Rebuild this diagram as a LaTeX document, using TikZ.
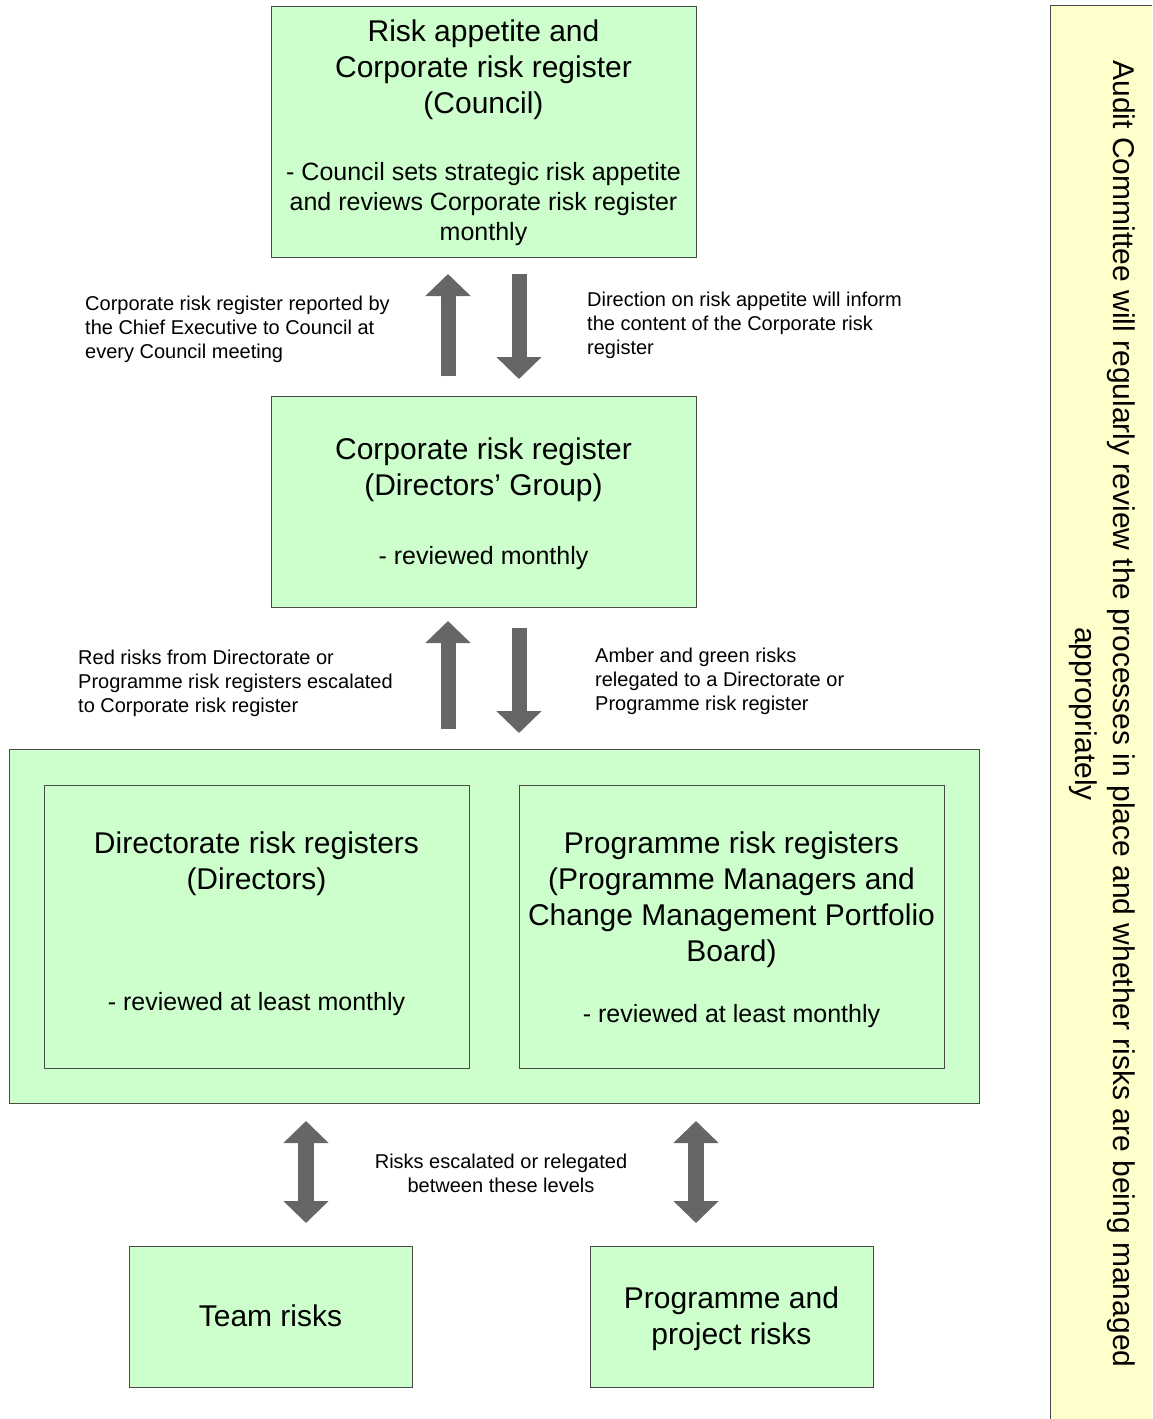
\documentclass[tikz,border=0pt]{standalone}
\usepackage{fontspec}
\setmainfont{Liberation Sans}
\usetikzlibrary{arrows.meta}
\definecolor{boxgreen}{HTML}{CCFFCC}
\definecolor{noteyellow}{HTML}{FFFFCC}
\definecolor{arrowgrey}{HTML}{666666}
\definecolor{edgegrey}{HTML}{4A4A4A}
\newcommand\fsz[2]{\fontsize{#1pt}{#2pt}\selectfont}

\begin{document}
\begin{tikzpicture}[x=1pt,y=-1pt,
  box/.style={draw=edgegrey, line width=0.8pt, fill=boxgreen, anchor=north west, inner sep=0pt},
  title/.style={align=center, font=\fsz{30}{36}, inner sep=0pt},
  sub/.style={align=center, font=\fsz{25}{30}, inner sep=0pt},
  note/.style={align=left, font=\fsz{20}{24}, inner sep=0pt, anchor=west},
  blockarrow/.style={draw=arrowgrey, line width=15pt, line cap=butt,
    -{Triangle[width=44pt,length=22pt]}},
  twoway/.style={draw=arrowgrey, line width=16pt, line cap=butt,
    {Triangle[width=44pt,length=22pt]}-{Triangle[width=44pt,length=22pt]}}
]
\useasboundingbox (0,0) rectangle (1152,1419);
\clip (0,0) rectangle (1152,1419);

% Audit Committee panel on the right
\node[draw=edgegrey, line width=0.8pt, fill=noteyellow, anchor=north west,
  minimum width=140pt, minimum height=1440pt, inner sep=0pt] (auditpanel) at (1050,5) {};
\node[rotate=-90, align=center, font=\fsz{30}{38}, inner sep=0pt] (audit) at (1102,714)
  {Audit Committee will regularly review the processes in place and whether risks are being managed\\appropriately};

% Council level
\node[box, minimum width=425pt, minimum height=251pt] (council) at (271,6) {};
\node[title] (councilT) at (483.5,70) {Risk appetite and\\Corporate risk register\\(Council)};
\node[sub] (councilS) at (483.5,204.5) {- Council sets strategic risk appetite\\and reviews Corporate risk register\\monthly};

% Directors' Group level
\node[box, minimum width=425pt, minimum height=211pt] (directors) at (271,396) {};
\node[title] (directorsT) at (483.5,470) {Corporate risk register\\(Directors’ Group)};
\node[sub] (directorsS) at (483.5,558) {- reviewed monthly};

% Directorate / Programme level
\node[box, minimum width=970pt, minimum height=354pt] (middle) at (9,749) {};
\node[box, minimum width=425pt, minimum height=283pt] (directorate) at (44,785) {};
\node[title] (directorateT) at (256.5,864) {Directorate risk registers\\(Directors)};
\node[sub] (directorateS) at (256.5,1004.5) {- reviewed at least monthly};
\node[box, minimum width=425pt, minimum height=283pt] (programme) at (519,785) {};
\node[title] (programmeT) at (731.5,900) {Programme risk registers\\(Programme Managers and\\Change Management Portfolio\\Board)};
\node[sub] (programmeS) at (731.5,1016.5) {- reviewed at least monthly};

% Lowest level
\node[box, minimum width=283pt, minimum height=141pt] (team) at (129,1246) {};
\node[title] (teamT) at (270.5,1315.5) {Team risks};
\node[box, minimum width=283pt, minimum height=141pt] (project) at (590,1246) {};
\node[title] (projectT) at (731.5,1318.5) {Programme and\\project risks};

% Notes beside the arrows
\node[note] (reportNote) at (85,329) {Corporate risk register reported by\\the Chief Executive to Council at\\every Council meeting};
\node[note] (directionNote) at (587,325) {Direction on risk appetite will inform\\the content of the Corporate risk\\register};
\node[note] (redNote) at (78,683) {Red risks from Directorate or\\Programme risk registers escalated\\to Corporate risk register};
\node[note] (amberNote) at (595,681) {Amber and green risks\\relegated to a Directorate or\\Programme risk register};
\node[align=center, font=\fsz{20}{24}, inner sep=0pt] (levelsNote) at (501,1173.5) {Risks escalated or relegated\\between these levels};

% Arrow end points
\coordinate (upA1) at (448,376);  \coordinate (upA2) at (448,274);
\coordinate (dnA1) at (519,274);  \coordinate (dnA2) at (519,379);
\coordinate (upB1) at (448,729);  \coordinate (upB2) at (448,621);
\coordinate (dnB1) at (519,628);  \coordinate (dnB2) at (519,733);
\coordinate (twL1) at (306,1121); \coordinate (twL2) at (306,1223);
\coordinate (twR1) at (696,1121); \coordinate (twR2) at (696,1223);

\draw[blockarrow] (upA1) -- (upA2);
\draw[blockarrow] (dnA1) -- (dnA2);
\draw[blockarrow] (upB1) -- (upB2);
\draw[blockarrow] (dnB1) -- (dnB2);
\draw[twoway] (twL1) -- (twL2);
\draw[twoway] (twR1) -- (twR2);
\end{tikzpicture}
\end{document}
